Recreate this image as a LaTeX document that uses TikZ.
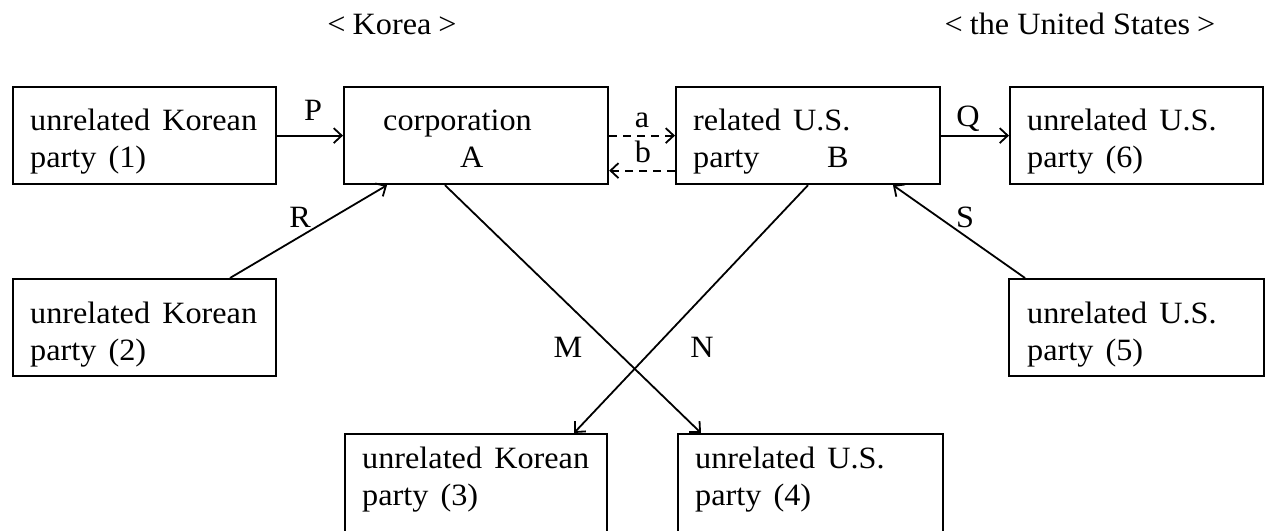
\documentclass[tikz,border=0pt]{standalone}
\usepackage{fontspec}
\setmainfont[FakeStretch=1.04,WordSpace=1.5]{Liberation Serif}
\newfontfamily\hfont[FakeStretch=1.04]{Liberation Serif}
\usetikzlibrary{arrows.meta}
\tikzset{
  box/.style={draw=black, line width=2.2pt, minimum width=#1, minimum height=97pt, anchor=north west, inner sep=0pt},
  box/.default=263pt,
  txt/.style={anchor=base west, inner sep=0pt, font=\fontsize{31}{37}\selectfont},
  lbl/.style={anchor=base, inner sep=0pt, font=\fontsize{31}{37}\selectfont},
  head/.style={anchor=base, inner sep=0pt, font=\hfont\fontsize{31}{37}\selectfont},
  arr/.style={line width=1.8pt, -{Straight Barb[length=8pt,width=15pt,line width=1.8pt]}},
  dsh/.style={arr, dash pattern=on 8pt off 6pt}
}
\begin{document}
\begin{tikzpicture}[x=1pt,y=-1pt]
\clip (0,0) rectangle (1271,530);
% boxes
\node[box] (b1) at (12,86) {};
\node[box=264pt] (A) at (343,86) {};
\node[box=264pt] (B) at (675,86) {};
\node[box=253pt] (b6) at (1009,86) {};
\node[box] (b2) at (12,278) {};
\node[box=255pt] (b5) at (1008,278) {};
\node[box=262pt, minimum height=140pt] (b3) at (344,433) {};
\node[box=265pt, minimum height=140pt] (b4) at (677,433) {};
% headings
\node[head] (hk) at (392,34) {<\hspace{7pt}Korea\hspace{7pt}>};
\node[head] (hu) at (1080,34) {<\hspace{7pt}the United States\hspace{7pt}>};
% box texts
\node[txt] (t1a) at (30,130) {unrelated Korean};
\node[txt] (t1b) at (30,167) {party (1)};
\node[txt] (tAa) at (383,130) {corporation};
\node[txt] (tAb) at (460,167) {A};
\node[txt] (tBa) at (693,130) {related U.S.};
\node[txt] (tBb) at (693,167) {party};
\node[txt] (tBc) at (827,167) {B};
\node[txt] (t6a) at (1027,130) {unrelated U.S.};
\node[txt] (t6b) at (1027,167) {party (6)};
\node[txt] (t2a) at (30,323) {unrelated Korean};
\node[txt] (t2b) at (30,360) {party (2)};
\node[txt] (t5a) at (1027,323) {unrelated U.S.};
\node[txt] (t5b) at (1027,360) {party (5)};
\node[txt] (t3a) at (362,468) {unrelated Korean};
\node[txt] (t3b) at (362,505) {party (3)};
\node[txt] (t4a) at (695,468) {unrelated U.S.};
\node[txt] (t4b) at (695,505) {party (4)};
% connectors
\draw[arr] (b1.east) -- (A.west);
\draw[arr] (B.east) -- (b6.west);
\draw[dsh] (A.east) -- (B.west);
\draw[dsh] ([yshift=-35pt]B.west) -- ([yshift=-35pt]A.east);
\draw[arr] ([xshift=218pt]b2.north west) -- ([xshift=44pt]A.south west);
\draw[arr] ([xshift=17pt]b5.north west) -- ([xshift=218pt]B.south west);
\draw[arr] ([xshift=102pt]A.south west) -- ([xshift=24pt]b4.north west);
\draw[arr] ([xshift=133pt]B.south west) -- ([xshift=230pt]b3.north west);
% connector labels
\node[lbl] (lP) at (313,120) {P};
\node[lbl] (la) at (642,127) {a};
\node[lbl] (lb) at (643,162) {b};
\node[lbl] (lQ) at (968,126) {Q};
\node[lbl] (lR) at (300,227) {R};
\node[lbl] (lS) at (965,227) {S};
\node[lbl] (lM) at (568,357) {M};
\node[lbl] (lN) at (702,357) {N};
\end{tikzpicture}
\end{document}
